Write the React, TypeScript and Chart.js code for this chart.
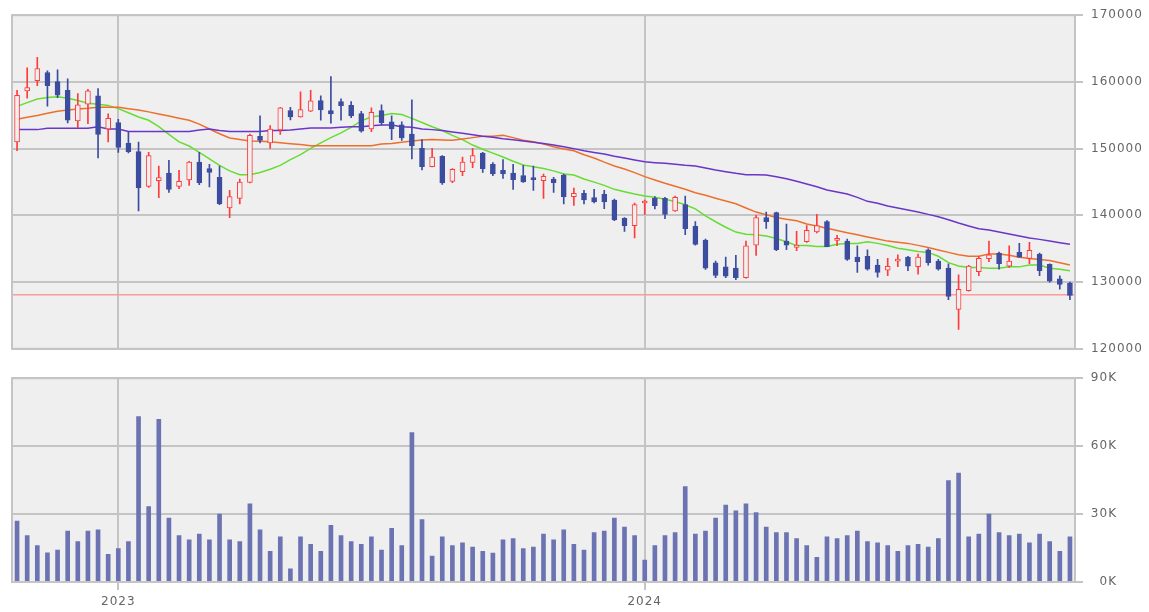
import { useEffect, useRef } from 'react';
import { Chart, registerables } from 'chart.js';

Chart.register(...registerables);

// weekly candles, first week 2022-10-24
const firstWeek = '2022-10-24';

const opens = [
  151000, 158650, 160200, 161400, 160050, 158750, 154150, 156650, 157900, 152950,
  153900, 150850, 149550, 144350, 145200, 146350, 144350, 145300, 148000, 147000,
  145700, 141100, 142550, 144950, 151850, 150850, 152800, 155700, 154750, 155600,
  157200, 155700, 157050, 156500, 155250, 152950, 155700, 154000, 153550, 152200,
  150050, 147300, 148850, 145100, 146550, 147950, 149350, 147650, 146750, 146350,
  145950, 145550, 145200, 145450, 146050, 142800, 143300, 142650, 143150, 142300,
  139550, 138450, 141850, 142550, 142550, 140650, 141600, 138350, 136300, 132900,
  132300, 132100, 130650, 135550, 139650, 140400, 136150, 135200, 136050, 137500,
  139050, 136250, 136150, 133750, 133850, 132550, 131800, 133150, 133750, 132300,
  134850, 133150, 132100, 125900, 128700, 131550, 133500, 134350, 132400, 134450,
  133550, 134200, 132650, 130500, 129850,
];
const highs = [
  158750, 162100, 163700, 161650, 161800, 160450, 158250, 158900, 159000, 155200,
  154400, 152450, 151000, 149450, 147400, 148250, 146750, 148100, 149450, 147650,
  147400, 143750, 145450, 152200, 154900, 153450, 156200, 156200, 158500, 158750,
  157900, 160800, 157450, 157050, 155600, 156100, 156550, 154900, 154000, 157300,
  151350, 150050, 148950, 147000, 148750, 150050, 149450, 147900, 148350, 147650,
  147500, 147400, 146200, 145700, 146200, 144100, 143750, 143900, 143750, 142450,
  139650, 141850, 142300, 142800, 142700, 142900, 142900, 139050, 136450, 133150,
  133750, 134000, 136150, 140000, 140500, 140500, 138700, 137600, 138450, 140150,
  139200, 137000, 136450, 135450, 134850, 133400, 133550, 134100, 133850, 134200,
  135000, 133400, 132750, 131100, 132500, 133850, 136150, 134500, 135450, 135800,
  135950, 134350, 132750, 130950, 130000,
];
const lows = [
  149700, 157550, 159450, 156350, 157650, 153850, 153100, 153750, 148600, 151000,
  149450, 149350, 140650, 144200, 142650, 143450, 144000, 144500, 144600, 144250,
  141600, 139650, 141700, 144850, 150850, 150050, 152150, 154300, 154700, 155550,
  154250, 153800, 154250, 154650, 152450, 152550, 153550, 151350, 151250, 148450,
  146800, 147250, 144650, 144900, 145950, 147150, 146450, 145950, 145550, 143900,
  144950, 143750, 142550, 143450, 141700, 141500, 141700, 141850, 141000, 139200,
  137600, 136600, 140150, 140950, 139500, 140600, 137100, 135550, 131900, 130650,
  130650, 130350, 130600, 134000, 138050, 134700, 134850, 134700, 135950, 137350,
  135300, 135450, 133250, 131450, 131800, 130750, 130950, 132300, 131700, 131200,
  132550, 131800, 127350, 122900, 128650, 130950, 133050, 131950, 132200, 133700,
  132750, 130950, 130000, 128950, 127350,
];
const closes = [
  158000, 159150, 162000, 159450, 158000, 154250, 156550, 158650, 152150, 154550,
  150200, 149550, 144100, 148950, 145650, 143900, 145100, 148000, 144900, 146450,
  141700, 142800, 145000, 152000, 151250, 152950, 156100, 154750, 155850, 157150,
  155800, 155200, 156450, 154900, 152600, 155450, 153900, 152950, 151600, 150400,
  147300, 148750, 144850, 146900, 148000, 148950, 147000, 146200, 146200, 145350,
  145000, 145350, 145850, 144900, 142800, 143300, 142300, 142000, 142000, 139300,
  138450, 141600, 142100, 141450, 140150, 142700, 138000, 135650, 132100, 131000,
  130900, 130650, 135450, 139650, 139050, 134850, 135550, 135550, 137750, 138450,
  135300, 136450, 133400, 133050, 131950, 131450, 132350, 133400, 132400, 133750,
  132900, 131950, 127850, 128900, 132400, 133550, 134100, 132750, 133150, 133750,
  134750, 131700, 130150, 129650, 128000,
];
const volumes = [
  26900, 20500, 16100, 12900, 14100, 22500, 17900, 22500, 23000, 12200,
  14800, 17900, 73100, 33300, 71800, 28200, 20500, 18600, 21200, 18600,
  30000, 18600, 17900, 34500, 23000, 13500, 19900, 5800, 19900, 16600,
  13500, 25000, 20500, 17900, 16600, 19900, 14100, 23700, 16100, 66000,
  27600, 11500, 19900, 16100, 17300, 15400, 13500, 12800, 18600, 19200,
  14800, 15400, 21200, 18600, 23000, 16600, 14100, 21800, 22500, 28200,
  24300, 20500, 9700, 16100, 20500, 21800, 42100, 21200, 22500, 28200,
  34000, 31400, 34500, 30700, 24300, 21800, 21800, 19200, 16100, 10900,
  19900, 19200, 20500, 22500, 17900, 17300, 16100, 13500, 16100, 16600,
  15400, 19200, 44800, 48100, 19900, 21200, 30000, 21800, 20500, 21200,
  17300, 21200, 17900, 13500, 19900,
];
// moving averages
const ma13 = [
  156330, 156900, 157440, 157650, 157780, 157540, 157200, 156820, 156650, 156480,
  156000, 155370, 154740, 154250, 153290, 152130, 151020, 150390, 149430, 148460,
  147490, 146670, 146090, 146090, 146430, 146910, 147490, 148360, 149090, 150050,
  150870, 151650, 152370, 153190, 154160, 154740, 154980, 155270, 155120, 154540,
  153920, 153290, 152710, 151990, 151360, 150540, 149910, 149330, 148750, 148120,
  147540, 147300, 147010, 146670, 146190, 146040, 145460, 144980, 144500, 143900,
  143530, 143190, 142900, 142710, 142420, 142080, 141600, 140970, 139910, 139040,
  138220, 137490, 137160, 137110, 136910, 136530, 136050, 135470, 135470, 135320,
  135320, 135660, 135800, 135800, 136050, 135800, 135470, 135080, 134840, 134600,
  134450, 133870, 132910, 132420, 132180, 132180, 132080, 132080, 132280, 132280,
  132570, 132570, 132080, 131940, 131700,
];
const ma26 = [
  154400, 154700, 154980, 155300, 155610, 155800, 155950, 156050, 156190, 156190,
  156190, 155990, 155800, 155510, 155200, 154880, 154570, 154250, 153680, 152950,
  152230, 151600, 151360, 151160, 151090, 151020, 150870, 150750, 150630, 150440,
  150440, 150440, 150440, 150440, 150440, 150440, 150680, 150780, 150970, 151160,
  151300, 151360, 151300, 151260, 151450, 151650, 151840, 151840, 151990, 151650,
  151260, 151020, 150680, 150290, 149960, 149670, 149090, 148600, 147980, 147400,
  146950, 146400, 145800, 145300, 144800, 144350, 143900, 143390, 143000, 142570,
  142150, 141740, 141100, 140490, 140100, 139670, 139400, 139190, 138700, 138400,
  138070, 137730, 137400, 137100, 136770, 136450, 136140, 135970, 135800, 135500,
  135180, 134800, 134450, 134110, 133870, 133870, 134210, 134210, 134020, 133730,
  133530, 133390, 133240, 132910, 132570,
];
const ma52 = [
  152850, 152850, 152850, 153050, 153050, 153050, 153050, 153050, 153290, 152950,
  152950, 152560, 152560, 152560, 152560, 152560, 152560, 152560, 152800, 152950,
  152710, 152560, 152560, 152560, 152560, 152710, 152710, 152810, 152950, 153100,
  153100, 153100, 153190, 153290, 153290, 153430, 153530, 153530, 153290, 153190,
  152950, 152850, 152710, 152500, 152320, 152080, 151840, 151700, 151500, 151350,
  151160, 150970, 150780, 150540, 150290, 150000, 149670, 149420, 149180, 148850,
  148600, 148300, 148020, 147900, 147800, 147650, 147500, 147400, 147100, 146800,
  146550, 146300, 146100, 146100, 146050, 145800, 145500, 145100, 144700, 144300,
  143800, 143500, 143200, 142700, 142100, 141800, 141400, 141100, 140800, 140500,
  140150, 139800, 139350, 138850, 138400, 138000, 137800, 137500, 137200, 136900,
  136600, 136400, 136150, 135900, 135660,
];
const lastPrice = 128000;
const priceTicks = { min: 120000, max: 170000, step: 10000 };
const volumeTicks = { min: 0, max: 90000, step: 30000 };

const UP = '#ff3b3b';
const DOWN = '#3c4c9f';
const PANEL = '#efefef';
const GRID = '#c4c4c4';
const TEXT = '#666666';
const FONT = { family: 'DejaVu Sans', size: 12 };

const weeks: string[] = (() => {
  const out: string[] = [];
  const d = new Date(firstWeek + 'T00:00:00Z');
  for (let i = 0; i < closes.length; i++) {
    out.push(d.toISOString().slice(0, 10));
    d.setUTCDate(d.getUTCDate() + 7);
  }
  return out;
})();

const isYearStart = (i: number) => {
  const w = weeks[i];
  return !!w && w.slice(5, 7) === '01' && Number(w.slice(8, 10)) <= 7;
};

// plot background, grid lines, year separators and the last price line,
// painted as thin filled rects under the marks
const panel = {
  id: 'panel',
  beforeDraw(chart: any) {
    const { ctx, chartArea: a } = chart;
    ctx.save();
    ctx.fillStyle = PANEL;
    ctx.fillRect(a.left, a.top, a.right - a.left, a.bottom - a.top);
    ctx.restore();
    ctx.letterSpacing = '1px';
  },
  beforeDatasetsDraw(chart: any, _args: any, opts: any) {
    const { ctx, chartArea: a, scales } = chart;
    const w = a.right - a.left;
    const h = a.bottom - a.top;
    ctx.save();
    ctx.globalCompositeOperation = 'source-over';
    ctx.globalAlpha = 1;
    ctx.fillStyle = GRID;
    for (const t of scales.y.ticks) {
      const y = Math.round(scales.y.getPixelForValue(t.value));
      ctx.fillRect(a.left, y - 1, w, 2);
    }
    weeks.forEach((_w, i) => {
      if (!isYearStart(i)) return;
      const x = Math.round(scales.x.getPixelForValue(i));
      ctx.fillRect(x - 1, a.top, 2, h);
    });
    if (opts && opts.priceLine != null) {
      const y = Math.round(scales.y.getPixelForValue(opts.priceLine));
      ctx.fillStyle = '#ff9a9a';
      ctx.fillRect(a.left, y - 1, w, 1.5);
    }
    ctx.restore();
  },
  afterDraw(chart: any) {
    const { ctx, chartArea: a } = chart;
    ctx.save();
    ctx.strokeStyle = GRID;
    ctx.lineWidth = 2;
    ctx.strokeRect(a.left, a.top, a.right - a.left, a.bottom - a.top);
    ctx.restore();
  },
};

function PricePanel() {
  const ref = useRef<HTMLCanvasElement>(null);

  useEffect(() => {
    if (!ref.current) return;
    const up = closes.map((c, i) => c >= opens[i]);
    const ma = (data: number[], color: string) => ({
      type: 'line' as const,
      data,
      borderColor: color,
      backgroundColor: color,
      borderWidth: 1.5,
      pointRadius: 0,
      tension: 0,
      fill: false,
      order: 2,
    });

    const chart = new Chart(ref.current, {
      type: 'bar',
      data: {
        labels: weeks,
        datasets: [
          ma(ma52, '#6a35c9'),
          ma(ma26, '#ee6f2d'),
          ma(ma13, '#66dd33'),
          {
            data: lows.map((l, i) => [l, highs[i]]),
            backgroundColor: up.map((u) => (u ? UP : DOWN)),
            barThickness: 1,
            grouped: false,
            order: 1,
          },
          {
            data: opens.map((o, i) => [o, closes[i]]),
            backgroundColor: up.map((u) => (u ? PANEL : DOWN)),
            borderColor: up.map((u) => (u ? UP : DOWN)),
            borderWidth: 1,
            borderSkipped: false,
            minBarLength: 2,
            barThickness: 5,
            grouped: false,
            order: 0,
          },
        ] as any,
      },
      options: {
        responsive: false,
        animation: false,
        events: [],
        layout: { padding: { left: 12, top: 14, right: 0, bottom: 6 } },
        plugins: {
          legend: { display: false },
          tooltip: { enabled: false },
          panel: { priceLine: lastPrice },
        } as any,
        scales: {
          x: {
            offset: true,
            border: { display: false },
            grid: { display: false },
            ticks: { display: false },
            afterFit: (s: any) => { s.height = 0; },
          },
          y: {
            position: 'right',
            min: priceTicks.min,
            max: priceTicks.max,
            border: { color: GRID, width: 2 },
            grid: { color: GRID, lineWidth: 2, tickLength: 8, drawOnChartArea: false },
            ticks: {
              stepSize: priceTicks.step,
              color: TEXT,
              font: FONT,
              padding: 8,
              callback: (v: any) => String(v),
            },
            afterFit: (s: any) => { s.width = 74; },
          },
        },
      },
      plugins: [panel],
    });

    return () => chart.destroy();
  }, []);

  return <canvas ref={ref} width={1149} height={364} style={{ display: 'block' }} />;
}

function VolumePanel() {
  const ref = useRef<HTMLCanvasElement>(null);

  useEffect(() => {
    if (!ref.current) return;
    const chart = new Chart(ref.current, {
      type: 'bar',
      data: {
        labels: weeks,
        datasets: [
          {
            data: volumes,
            backgroundColor: '#6b73b3',
            barThickness: 4,
          },
        ],
      },
      options: {
        responsive: false,
        animation: false,
        events: [],
        layout: { padding: { left: 12, top: 8, right: 32, bottom: 0 } },
        plugins: { legend: { display: false }, tooltip: { enabled: false } },
        scales: {
          x: {
            offset: true,
            border: { display: false },
            grid: {
              offset: false,
              drawOnChartArea: false,
              color: (c: any) => (isYearStart(c.index) ? GRID : 'rgba(0,0,0,0)'),
              lineWidth: 2,
              tickLength: 8,
            },
            ticks: {
              autoSkip: false,
              maxRotation: 0,
              color: TEXT,
              font: FONT,
              padding: 5,
              callback: (_v: any, i: number) => (isYearStart(i) ? weeks[i].slice(0, 4) : ''),
            },
            afterFit: (s: any) => { s.height = 30; },
          },
          y: {
            position: 'right',
            min: volumeTicks.min,
            max: volumeTicks.max,
            border: { color: GRID, width: 2 },
            grid: { color: GRID, lineWidth: 2, tickLength: 8, drawOnChartArea: false },
            ticks: {
              stepSize: volumeTicks.step,
              color: TEXT,
              font: FONT,
              padding: 7,
              crossAlign: 'far',
              callback: (v: any) => Number(v) / 1000 + 'K',
            },
            afterFit: (s: any) => { s.width = 42; },
          },
        },
      },
      plugins: [panel],
    });

    return () => chart.destroy();
  }, []);

  return <canvas ref={ref} width={1149} height={248} style={{ display: 'block' }} />;
}

export default function App() {
  return (
    <div style={{ position: 'absolute', left: 0, top: 0, width: 1149, height: 612, background: '#fff' }}>
      <PricePanel />
      <VolumePanel />
    </div>
  );
}
